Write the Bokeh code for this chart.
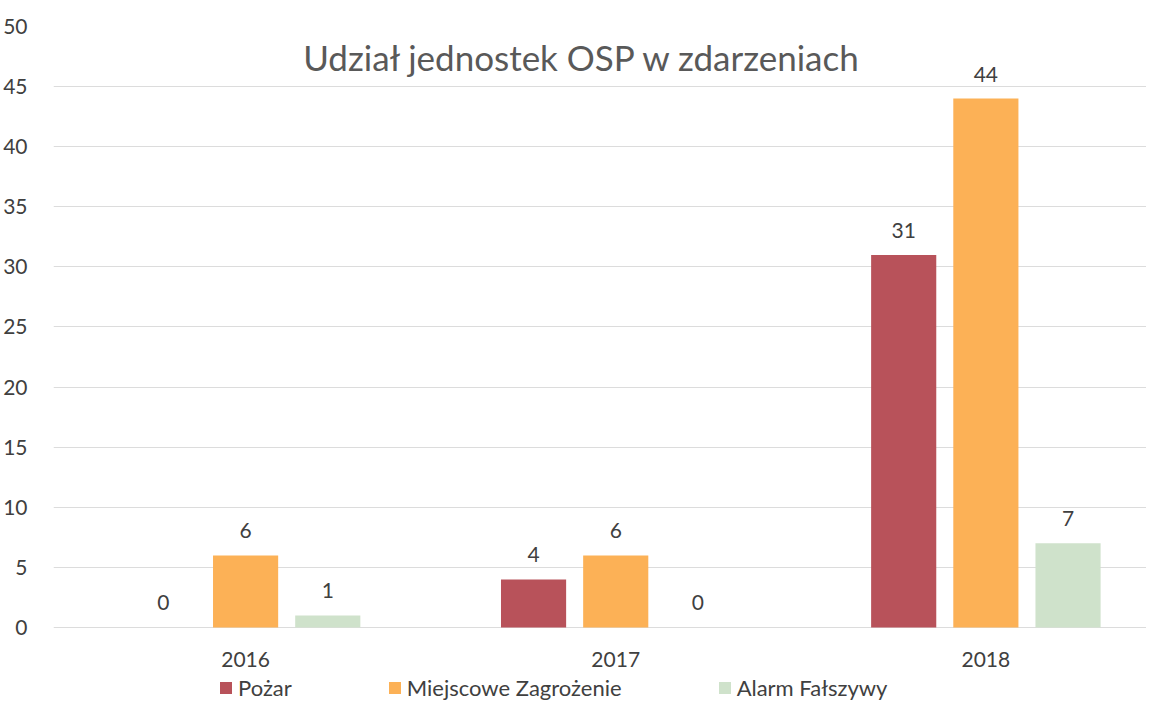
from bokeh.plotting import figure
from bokeh.models import ColumnDataSource, Range1d, FixedTicker, LabelSet, Legend, LegendItem, Label
from bokeh.core.properties import value
from bokeh.embed import file_html
from bokeh.resources import INLINE

years = ["2016", "2017", "2018"]
series = ["Pożar", "Miejscowe Zagrożenie", "Alarm Fałszywy"]
pozar = [0, 4, 31]
miejscowe = [6, 6, 44]
alarm = [1, 0, 7]
colors = ["#b8525a", "#fcb156", "#cfe2cb"]
title_text = "Udział jednostek OSP w zdarzeniach"

FONT = "Lato"
TXT = "#404040"

p = figure(width=1146, height=702, output_backend="svg", toolbar_location=None,
           x_range=Range1d(-0.519, 2.434), y_range=Range1d(-6.24, 50),
           x_axis_location=None,
           min_border_left=52, min_border_right=0, min_border_top=26, min_border_bottom=0)
p.outline_line_color = None
p.background_fill_color = "white"
p.border_fill_color = "white"

xs = list(range(len(years)))
offsets = [-0.222, 0.0, 0.222]
bw = 0.176
renderers = []
for vals, off, c, name in zip([pozar, miejscowe, alarm], offsets, colors, series):
    src = ColumnDataSource(dict(x=[x + off for x in xs], top=vals, lab=[str(v) for v in vals]))
    r = p.vbar(x="x", top="top", bottom=0, width=bw, source=src, fill_color=c, line_color=None)
    renderers.append(r)
    lbl = LabelSet(x="x", y="top", text="lab", source=src, y_offset=17, text_align="center",
                   text_baseline="bottom", text_font=value(FONT), text_font_size=value("21px"),
                   text_color=value(TXT))
    p.add_layout(lbl)

# category labels (x axis) drawn inside the frame
ysrc = ColumnDataSource(dict(x=xs, y=[-2.66] * len(xs), t=years))
p.text(x="x", y="y", text="t", source=ysrc, text_align="center", text_baseline="middle",
       text_font=value(FONT), text_font_size=value("21px"), text_color=TXT)

p.add_layout(Label(x=0.911, y=47.5, text=title_text,
                   text_font=FONT, text_font_size="35px", text_color="#595959",
                   text_align="center", text_baseline="middle"))

p.yaxis.ticker = FixedTicker(ticks=list(range(0, 51, 5)))
p.yaxis.axis_line_color = None
p.yaxis.major_tick_line_color = None
p.yaxis.minor_tick_line_color = None
p.yaxis.major_label_standoff = 20
p.yaxis.major_label_text_font = FONT
p.yaxis.major_label_text_font_size = "21px"
p.yaxis.major_label_text_color = TXT
p.xgrid.grid_line_color = None
p.ygrid.grid_line_color = "#dcdcdc"
p.ygrid.grid_line_width = 1

legend = Legend(items=[LegendItem(label=s, renderers=[r]) for s, r in zip(series, renderers)],
                orientation="horizontal", location=(165, 1), border_line_color=None,
                label_text_font=FONT, label_text_font_size="22px", label_text_color=TXT,
                glyph_width=15, glyph_height=15, spacing=95, padding=0, margin=0,
                label_standoff=5, background_fill_alpha=0)
p.add_layout(legend, "center")

with open("out.html", "w") as f:
    f.write(file_html(p, INLINE))
